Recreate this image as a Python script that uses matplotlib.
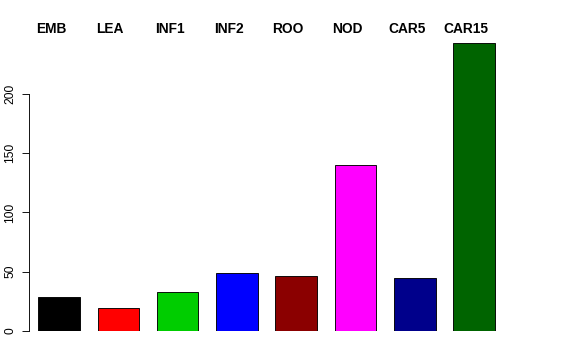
"""Bar chart of counts per tissue, R barplot look."""

import matplotlib

matplotlib.use("Agg")
import matplotlib.pyplot as plt

# Data
tissues = ["EMB", "LEA", "INF1", "INF2", "ROO", "NOD", "CAR5", "CAR15"]
counts = [29, 19.5, 32.8, 49, 46, 140, 45, 243]
bar_colors = ["#000000", "#FF0000", "#00CD00", "#0000FF",
              "#8B0000", "#FF00FF", "#00008B", "#006400"]
y_ticks = [0, 50, 100, 150, 200]

plt.rcParams["font.family"] = ["Liberation Sans", "DejaVu Sans"]

W, H, DPI = 576, 360, 72
fig = plt.figure(figsize=(W / DPI, H / DPI), dpi=DPI, facecolor="white")

# axes placed in pixel terms: y-axis line at x=29px, y=0 at 331px
left_px, right_px = 29, 547
bottom_px, top_px = 331, 34.5
ax = fig.add_axes([left_px / W, (H - bottom_px) / H,
                   (right_px - left_px) / W, (bottom_px - top_px) / H])

x = list(range(len(tissues)))
ax.bar(x, counts, width=0.7, color=bar_colors, edgecolor="black", linewidth=0.9)

ax.set_xlim(-0.506, 8.23)
ax.set_ylim(0, 250)

for side in ["top", "right", "bottom"]:
    ax.spines[side].set_visible(False)
ax.spines["left"].set_bounds(0, 200)
ax.spines["left"].set_linewidth(0.9)
ax.set_xticks([])
ax.set_yticks(y_ticks)
ax.set_yticklabels([str(t) for t in y_ticks], rotation=90, va="center", fontsize=12)
ax.tick_params(axis="y", length=7, width=0.9, pad=6)

# labels above the plot, slightly left of each bar
for xi, name in zip(x, tissues):
    ax.text(xi - 0.135, 254.6, name, ha="center", va="center",
            fontsize=13.7, fontweight="bold", clip_on=False)

fig.savefig("out.png", dpi=DPI, facecolor="white")
